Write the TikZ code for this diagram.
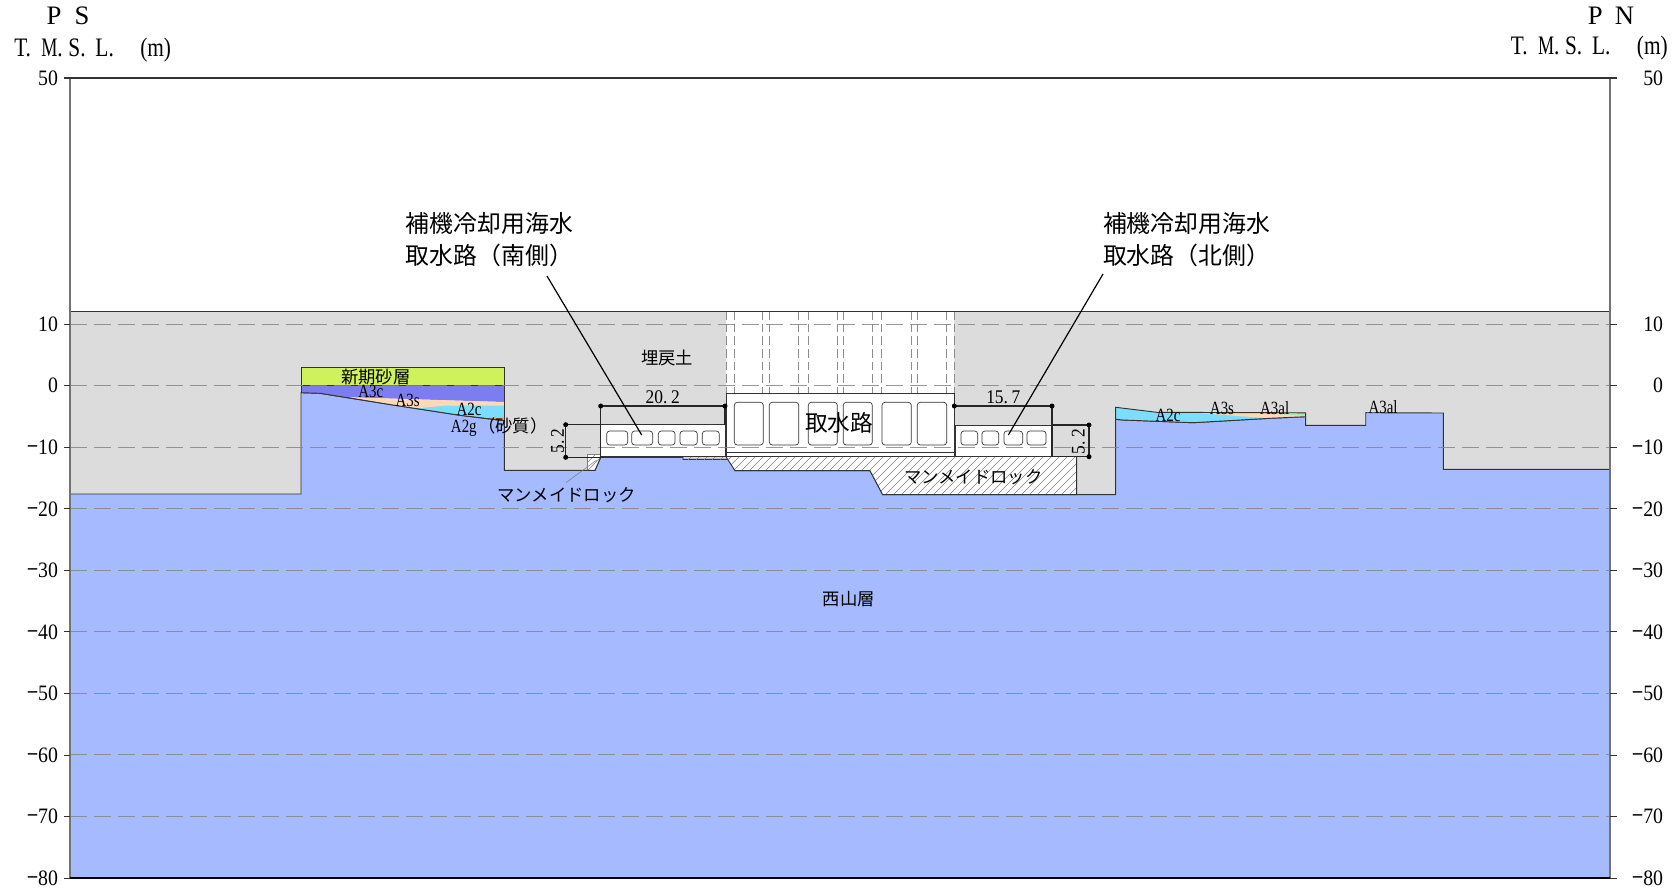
\documentclass[tikz,border=0pt]{standalone}
\usepackage{fontspec}
\setmainfont{Liberation Serif}
\newfontfamily\cjk{Noto Sans CJK JP}
\definecolor{rock}{HTML}{A5BAFF}
\definecolor{backfill}{HTML}{DCDCDC}
\definecolor{sand}{HTML}{CFF25C}
\definecolor{athreec}{HTML}{7C7DF0}
\definecolor{athrees}{HTML}{FDD9B5}
\definecolor{atwoc}{HTML}{7DDDFC}
\definecolor{atwog}{HTML}{F2A860}
\definecolor{athreea}{HTML}{A5E8B0}
\definecolor{ink}{HTML}{333333}
\newcommand{\fsz}[1]{\fontsize{#1}{#1}\selectfont}
\newcommand{\nar}[1]{\scalebox{0.8}[1]{#1}}
\newcommand{\nax}[1]{\scalebox{0.9}[1]{#1}}
\newcommand{\cell}[1]{\makebox[20.3pt][l]{\nar{#1}}}
\tikzset{
  x=0.75pt,y=-0.75pt,
  outline/.style={draw=ink,line width=0.7pt},
  griddash/.style={draw=gray!95,line width=0.8pt,opacity=0.85,dash pattern=on 12.5pt off 5.5pt},
  colline/.style={draw=gray!90,line width=0.6pt,dash pattern=on 6.5pt off 3pt},
  cellbox/.style={draw=ink,line width=0.5pt,rounded corners=2.2pt,fill=white},
  dimline/.style={draw=black!85,line width=0.8pt},
  hatchline/.style={draw=gray,line width=0.4pt},
  leader/.style={draw=black,line width=0.9pt},
  thinleader/.style={draw=gray,line width=0.4pt},
  small/.style={inner sep=0pt,font=\cjk\fsz{13}},
  latinlab/.style={inner sep=0pt,font=\fsz{14}},
  dimlab/.style={inner sep=0pt,font=\fsz{14.5}},
  axlab/.style={inner sep=0pt,font=\fsz{16.5}},
  bigcall/.style={inner sep=0pt,align=left,font=\cjk\fontsize{17.9}{24}\selectfont},
}
\begin{document}
\begin{tikzpicture}
\useasboundingbox (0,0) rectangle (1674,894);
\fill[white] (0,0) rectangle (1674,894);
% backfill
\fill[backfill] (70,311) rectangle (1610,878);
% bedrock
\path[fill=rock,outline] (70,494) -- (301,494) -- (301,392.7) -- (320,393.3) -- (393,405) -- (460,415.3) -- (504.3,420.7)
  -- (504.3,470.3) -- (595,470.3) -- (600.7,457.3) -- (683,457.3) -- (683,459.3) -- (730,459.3) -- (735,470.7)
  -- (870,470.7) -- (882.7,494.7) -- (1115.7,494.7) -- (1115.7,419.3) -- (1123,420) -- (1193,422.7) -- (1270,418.3)
  -- (1305.7,416.7) -- (1305.7,425.3) -- (1365.7,425.3) -- (1365.7,412.7) -- (1443.3,413) -- (1443.3,469.3) -- (1610,469.3)
  -- (1610,878) -- (70,878) -- cycle;
% south layers
\path[fill=sand,outline] (301,367.7) rectangle (504.3,385.5);
\fill[athreec] (301,385.5) -- (504.3,385.5) -- (504.3,402) -- (350,397.3) -- (320,393.3) -- (301,392.7) -- cycle;
\fill[athrees] (350,397.3) -- (504.3,402) -- (504.3,405.7) -- (445,405.7) -- (417,408.5) -- (393,405) -- cycle;
\fill[atwoc] (417,408.5) -- (445,405.7) -- (504.3,405.7) -- (504.3,417.5) -- (487,417.5) -- (460,415.3) -- cycle;
\fill[atwog] (487,417.3) -- (504.3,417.3) -- (504.3,420.7) -- cycle;
\draw[outline] (301,392.7) -- (301,367.7) -- (504.3,367.7) -- (504.3,420.7);
\draw[outline] (301,392.7) -- (320,393.3) -- (393,405) -- (460,415.3) -- (504.3,420.7);
\draw[outline] (301,385.5) -- (504.3,385.5);
% north layers
\fill[atwoc] (1115.7,407.3) -- (1157,412.3) -- (1305.7,412.8) -- (1305.7,416.7) -- (1270,418.3) -- (1193,422.7) -- (1123,420) -- (1115.7,419.3) -- cycle;
\fill[athrees] (1195,412.8) -- (1305.7,412.8) -- (1305.7,416.7) -- (1270,418.3) -- cycle;
\fill[athreea] (1257,412.8) -- (1305.7,412.8) -- (1305.7,415.8) -- cycle;
\draw[outline] (1115.7,419.3) -- (1115.7,407.3) -- (1157,412.3) -- (1305.7,412.8) -- (1305.7,416.7);
\draw[outline] (1115.7,419.3) -- (1123,420) -- (1193,422.7) -- (1270,418.3) -- (1305.7,416.7);
% hatched rock
\path[fill=white] (726,456.7) -- (735,470.7) -- (870,470.7) -- (882.7,494.7) -- (1076.7,494.7) -- (1076.7,456.7) -- cycle;
\begin{scope}
\clip (726,456.7) -- (735,470.7) -- (870,470.7) -- (882.7,494.7) -- (1076.7,494.7) -- (1076.7,456.7) -- cycle;
\foreach \i in {680,688,...,1080} \draw[hatchline] (\i,500) -- ({\i+50},450);
\end{scope}
\draw[outline] (726,456.7) -- (735,470.7) -- (870,470.7) -- (882.7,494.7) -- (1076.7,494.7) -- (1076.7,456.7);
\path[fill=white] (587.3,454) -- (600.7,454) -- (600.7,457.3) -- (595,470.3) -- (587.3,470.3) -- cycle;
\begin{scope}
\clip (587.3,454) -- (600.7,454) -- (600.7,457.3) -- (595,470.3) -- (587.3,470.3) -- cycle;
\foreach \i in {570,578,...,610} \draw[hatchline] (\i,480) -- ({\i+30},450);
\end{scope}
\draw[thinleader] (587.3,470.3) -- (587.3,454) -- (600.7,454);
\draw[outline] (587.3,470.3) -- (595,470.3) -- (600.7,457.3);
\begin{scope}
\clip (683,456.7) rectangle (730,459.3);
\foreach \i in {670,678,...,740} \draw[hatchline] (\i,462) -- ({\i+10},452);
\end{scope}
% main structure column above
\fill[white] (726,311) rectangle (954.3,393.7);
\foreach \xx in {734.3,762.7,769.3,798.3,808.3,837.3,843.3,872.7,881.7,911.3,917.3,946.7} \draw[colline] (\xx,311) -- (\xx,393.7);
\draw[colline] (726,311) -- (726,393.7);
\draw[colline] (954.3,311) -- (954.3,393.7);
\draw[outline] (726,311) -- (954.3,311);
\draw[draw=ink,line width=0.5pt] (70,311.3) -- (726,311.3);
\draw[draw=ink,line width=0.5pt] (954.3,311.3) -- (1610,311.3);
% structures
\path[fill=white,outline] (726,393.7) rectangle (954.3,456.7);
\draw[outline] (726,452.7) -- (954.3,452.7);
\foreach \a/\b in {734.3/763.3,769.3/798.7,808.3/837.3,843.3/872.3,882/911.3,917.3/946.7}
  \draw[cellbox] (\a,402.3) rectangle (\b,445);
\path[fill=white,outline] (600.7,424.5) rectangle (725,456.9);
\foreach \a/\b in {606.7/627.7,631.7/652.7,658.3/675,680/697.3,702.3/719.3}
  \draw[cellbox] (\a,431) rectangle (\b,445);
\path[fill=white,outline] (955.7,425) rectangle (1052,456.7);
\foreach \a/\b in {961/977.7,982/998.7,1004/1022.7,1027/1046}
  \draw[cellbox] (\a,431) rectangle (\b,445);
% grid
\foreach \yy in {10,0,-10,-20,-30,-40,-50,-60,-70}
  \draw[griddash] (70,{385.7-6.154*\yy}) -- (1610,{385.7-6.154*\yy});
% frame and ticks
\draw[draw=gray!90!black,line width=0.8pt] (70,78) -- (70,878);
\draw[draw=gray!90!black,line width=0.8pt] (1610,78) -- (1610,878);
\draw[draw=ink,line width=0.8pt] (64,78) -- (1616.7,78);
\draw[draw=black,line width=0.9pt] (70,878) -- (1610,878);
\foreach \yy in {10,0,-10,-20,-30,-40,-50,-60,-70,-80} {
  \draw[draw=ink,line width=0.6pt] (64,{385.7-6.154*\yy}) -- (70,{385.7-6.154*\yy});
  \draw[draw=ink,line width=0.6pt] (1610,{385.7-6.154*\yy}) -- (1616.7,{385.7-6.154*\yy});
}
% axis labels
\foreach \t/\yy in {50/50,10/10,0/0,{\cjk−}10/-10,{\cjk−}20/-20,{\cjk−}30/-30,{\cjk−}40/-40,{\cjk−}50/-50,{\cjk−}60/-60,{\cjk−}70/-70,{\cjk−}80/-80} {
  \node[axlab,anchor=east] (L\yy) at (58.3,{385.7-6.154*\yy}) {\nax{\t}};
  \node[axlab,anchor=east] (R\yy) at (1663.3,{385.7-6.154*\yy}) {\nax{\t}};
}
\node[inner sep=0pt,font=\fsz{20}] (ps) at (68,16) {P\kern10pt S};
\node[inner sep=0pt,font=\fsz{20}] (pn) at (1611,16) {P\kern9pt N};
\node[inner sep=0pt,anchor=west,font=\fsz{20}] (tmsll) at (14,50) {\cell{T.}\cell{\scalebox{.85}[1]{M}.}\cell{S.}\cell{L.}\kern13.3pt\nar{(m)}};
\node[inner sep=0pt,anchor=west,font=\fsz{20}] (tmslr) at (1510.7,48) {\cell{T.}\cell{\scalebox{.85}[1]{M}.}\cell{S.}\cell{L.}\kern13.3pt\nar{(m)}};
% dimensions
\draw[dimline] (600.7,457) -- (600.7,406) -- (725,406) -- (725,424.5);
\draw[dimline] (565.7,424.7) -- (600.7,424.7);
\draw[dimline] (565.7,457.3) -- (600.7,457.3);
\draw[dimline] (565.7,424.7) -- (565.7,457.3);
\draw[dimline] (954.3,406) -- (1052,406) -- (1052,456.7);
\draw[dimline] (1052,425) -- (1089,425) -- (1089,456.7) -- (1052,456.7);
\foreach \p in {(600.7,406),(725,406),(565.7,424.7),(565.7,457.3),(954.3,406),(1052,406),(1089,425),(1089,456.7)}
  \fill[black] \p circle [radius=2.5];
\node[dimlab] (d1) at (662.7,397) {\nax{20.\kern3pt 2}};
\node[dimlab] (d2) at (1003.3,397.3) {\nax{15.\kern3pt 7}};
\node[dimlab,rotate=90] (d3) at (557.7,441) {\nax{5.\kern3pt 2}};
\node[dimlab,rotate=90] (d4) at (1078.3,441.7) {\nax{5.\kern3pt 2}};
% labels
\node[small] (shinki) at (375.7,376.7) {新期砂層};
\node[latinlab] (a3c) at (370.7,391.7) {\nar{A3c}};
\node[latinlab] (a3s) at (407.7,400) {\nar{A3s}};
\node[latinlab] (a2c) at (469,409.3) {\nar{A2c}};
\node[latinlab,anchor=west] (a2g) at (450.7,426.7) {\nar{A2g}\kern1pt{\cjk\fsz{13}（砂質）}};
\node[small] (umemodo) at (667.3,358.3) {埋戻土};
\node[small] (man1) at (566.7,495) {マンメイドロック};
\node[small] (man2) at (973.3,476.7) {マンメイドロック};
\node[inner sep=0pt,font=\cjk\fsz{17}] (shusui) at (839.3,423.3) {取水路};
\node[small] (nishi) at (848.7,599) {西山層};
\node[latinlab] (a2cn) at (1168,415.7) {\nar{A2c}};
\node[latinlab] (a3sn) at (1222,408) {\nar{A3s}};
\node[latinlab] (a3aln) at (1274.7,408) {\nar{A3al}};
\node[latinlab] (a3alm) at (1383,406.7) {\nar{A3al}};
\node[bigcall,anchor=north west] (callS) at (405.7,212) {補機冷却用海水\\取水路（南側）};
\node[bigcall,anchor=north west] (callN) at (1102.8,212) {補機冷却用海水\\取水路（北側）};
% leaders
\coordinate (endS) at (641.7,435);
\coordinate (endN) at (1008.3,435);
\coordinate (startS) at (547,276);
\coordinate (startN) at (1103,274);
\draw[leader] (startS) -- (endS);
\draw[leader] (startN) -- (endN);
\coordinate (manS) at (596.7,460);
\draw[thinleader] (566,482.7) -- (manS);
\end{tikzpicture}
\end{document}
